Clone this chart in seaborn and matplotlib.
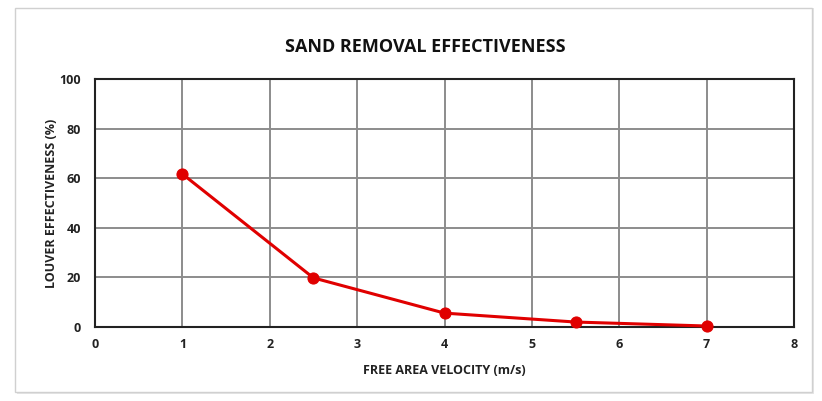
import matplotlib
matplotlib.use("Agg")
import matplotlib.pyplot as plt
import seaborn as sns
import pandas as pd
from matplotlib.patches import Rectangle

velocity = [1, 2.5, 4, 5.5, 7]
effectiveness = [61.7, 19.8, 5.6, 2.0, 0.4]
x_ticks = [0, 1, 2, 3, 4, 5, 6, 7, 8]
y_ticks = [0, 20, 40, 60, 80, 100]

sns.set_theme(style="white")
plt.rcParams['font.family'] = ['Open Sans', 'DejaVu Sans']

df = pd.DataFrame({"v": velocity, "e": effectiveness})

fig = plt.figure(figsize=(8.22, 4.01), dpi=100)
fig.patch.set_facecolor("white")
# outer frame with slight shadow
fig.patches.append(Rectangle((17/822, 1 - 394/401), 797/822, 386/401, transform=fig.transFigure,
                             facecolor="#e6e6e6", edgecolor="none", zorder=-2))
fig.patches.append(Rectangle((15/822, 1 - 392/401), 797/822, 384/401, transform=fig.transFigure,
                             facecolor="white", edgecolor="#d0d0d0", linewidth=1, zorder=-1))

ax = fig.add_axes([95/822, 1 - 327/401, (794 - 95)/822, (327 - 79)/401])
ax.set_zorder(3)
sns.lineplot(data=df, x="v", y="e", ax=ax, color="#e00000", linewidth=2.2,
             marker="o", markersize=8, markeredgecolor="#e00000", zorder=5, clip_on=False)

ax.set_xlim(0, 8)
ax.set_ylim(0, 100)
ax.set_xticks(x_ticks)
ax.set_yticks(y_ticks)
ax.grid(True, color="#8c8c8c", linewidth=1.4)
ax.set_axisbelow(True)
for s in ax.spines.values():
    s.set_visible(True)
    s.set_color("#222222")
    s.set_linewidth(1.5)
ax.tick_params(axis="x", length=0, labelsize=9, pad=8, colors="#222222")
ax.tick_params(axis="y", length=0, labelsize=9, pad=10, colors="#222222")
for lbl in ax.get_xticklabels() + ax.get_yticklabels():
    lbl.set_fontweight("bold")

ax.set_xlabel("FREE AREA VELOCITY (m/s)", fontsize=9, fontweight="bold", color="#222222", labelpad=9)
ax.set_ylabel("LOUVER EFFECTIVENESS (%)", fontsize=9, fontweight="bold", color="#222222", labelpad=1)
fig.text(425/822, 1 - 47/401, "SAND REMOVAL EFFECTIVENESS", ha="center", va="center",
         fontsize=13, fontweight="bold", color="#111111")

fig.savefig("out.png", dpi=100, facecolor="white")
